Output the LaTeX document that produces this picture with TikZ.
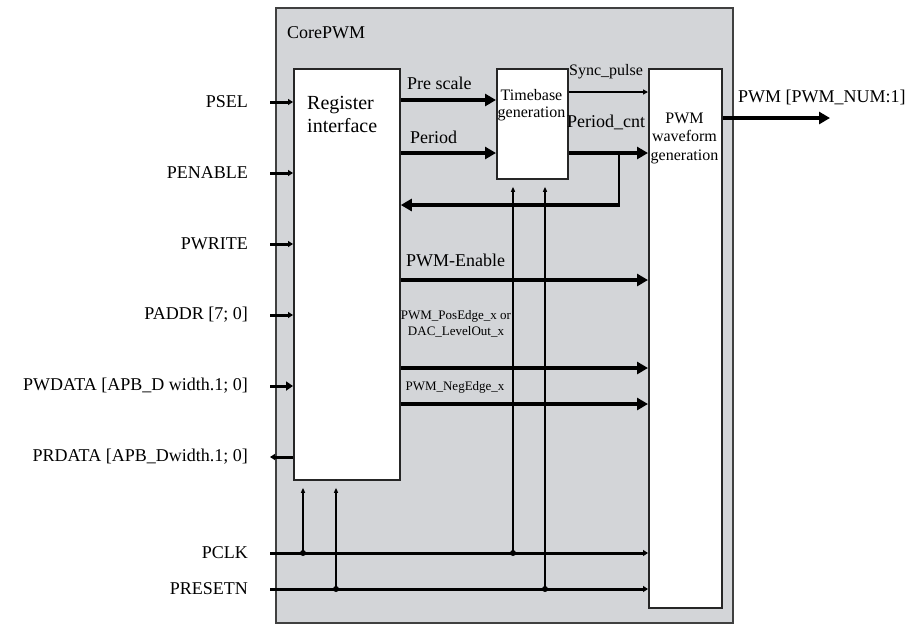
\documentclass[tikz,border=0pt]{standalone}
\usepackage{fontspec}
\setmainfont{Liberation Serif}
\usetikzlibrary{arrows.meta}
\begin{document}
\begin{tikzpicture}[x=1pt,y=-1pt,
  blk/.style={draw=black!85, line width=1.8pt, fill=white, anchor=north west, inner sep=0pt},
  tA/.style={font=\fontsize{18}{20}\selectfont, inner sep=0pt},
  tB/.style={font=\fontsize{16}{17}\selectfont, inner sep=0pt},
  tC/.style={font=\fontsize{13}{16}\selectfont, inner sep=0pt},
  big/.style={line width=3.5pt, -{Triangle[length=11pt,width=12pt]}},
  mid/.style={line width=3pt, -{Triangle[length=5pt,width=6pt]}},
  thin/.style={line width=1.5pt, -{Triangle[length=5pt,width=4pt]}},
  dot/.style={circle, fill=black, inner sep=0pt, minimum size=6pt}
]
\useasboundingbox (0,0) rectangle (912,625);
\fill[white] (0,0) rectangle (912,625);

% outer CorePWM box
\node[blk, fill={rgb,255:red,211;green,213;blue,216}, draw=black!75, line width=1.5pt,
      minimum width=457pt, minimum height=615pt] (core) at (275,7) {};
\node[tA, anchor=west] (corelbl) at (287,33) {CorePWM};

% inner blocks
\node[blk, minimum width=106pt, minimum height=411pt] (reg) at (293,68) {};
\node[blk, minimum width=71pt, minimum height=110pt] (tb) at (496,68) {};
\node[blk, minimum width=73pt, minimum height=539pt] (pwm) at (648,68) {};

\node[font=\fontsize{20}{23}\selectfont, inner sep=0pt, align=left, anchor=north west] (regtxt) at (307,96) {Register\\interface};
\node[font=\fontsize{16}{17}\selectfont, inner sep=0pt, align=center] (tbtxt) at (531.5,105) {Timebase\\generation};
\node[font=\fontsize{16}{18.5}\selectfont, inner sep=0pt, align=center] (pwmtxt) at (684.5,138) {PWM\\waveform\\generation};

% input labels
\node[tA, anchor=east] (lpsel) at (248,102) {PSEL};
\node[tA, anchor=east] (lpen) at (248,173) {PENABLE};
\node[tA, anchor=east] (lpwr) at (248,244) {PWRITE};
\node[tA, anchor=east] (lpad) at (248,315) {PADDR [7; 0]};
\node[tA, anchor=east] (lpwd) at (248,386) {PWDATA [APB\_D width.1; 0]};
\node[tA, anchor=east] (lprd) at (248,457) {PRDATA [APB\_Dwidth.1; 0]};
\node[tA, anchor=east] (lclk) at (248,553) {PCLK};
\node[tA, anchor=east] (lrst) at (248,589) {PRESETN};

\coordinate (cpsel) at (270,102);
\coordinate (cpen) at (270,173);
\coordinate (cpwr) at (270,244);
\coordinate (cpad) at (270,315);
\coordinate (cpwd) at (270,386);
\coordinate (cprd) at (270,457);
\coordinate (cclk) at (270,553);
\coordinate (crst) at (270,589);

\draw[mid] (cpsel) -- (cpsel -| reg.west);
\draw[mid] (cpen) -- (cpen -| reg.west);
\draw[mid] (cpwr) -- (cpwr -| reg.west);
\draw[mid] (cpad) -- (cpad -| reg.west);
\draw[mid, -{Triangle[length=7pt,width=9pt]}] (cpwd) -- (cpwd -| reg.west);
\draw[mid] (cprd -| reg.west) -- (cprd);

% register -> timebase
\coordinate (ypre) at (0,100);
\coordinate (yper) at (0,153);
\draw[big] (ypre -| reg.east) -- (ypre -| tb.west);
\draw[big] (yper -| reg.east) -- (yper -| tb.west);
\node[tA, anchor=west] (lpre) at (407,83) {Pre scale};
\node[tA, anchor=west] (lper) at (410,137) {Period};

% timebase -> pwm
\coordinate (ysync) at (0,92);
\draw[line width=2.2pt, -{Triangle[length=5pt,width=5pt]}] (ysync -| tb.east) -- (ysync -| pwm.west);
\node[tB, anchor=west] (lsync) at (569,72) {Sync\_pulse};
\draw[big] (yper -| tb.east) -- (yper -| pwm.west);
\node[tA, anchor=west] (lpcnt) at (567,122) {Period\_cnt};
\coordinate (fbtop) at (619,153);
\coordinate (fbbot) at (619,205);
\draw[line width=1.8pt] (fbtop) -- (fbbot);
\draw[big] ([xshift=0.9pt]fbbot) -- (fbbot -| reg.east);

% register -> pwm
\coordinate (yen) at (0,280);
\coordinate (ypos) at (0,368);
\coordinate (yneg) at (0,404);
\draw[big] (yen -| reg.east) -- (yen -| pwm.west);
\draw[big] (ypos -| reg.east) -- (ypos -| pwm.west);
\draw[big] (yneg -| reg.east) -- (yneg -| pwm.west);
\node[tA, anchor=west] (len) at (406,260) {PWM-Enable};
\node[tC, align=center] (lpos) at (456,324) {PWM\_PosEdge\_x or\\DAC\_LevelOut\_x};
\node[tC] (lneg) at (455,387) {PWM\_NegEdge\_x};

% pwm output
\coordinate (pwmout) at (830,118);
\draw[big] (pwmout -| pwm.east) -- (pwmout);
\node[tA, anchor=west] (lout) at (738,97) {PWM [PWM\_NUM:1]};

% clock and reset
\draw[mid] (cclk) -- (cclk -| pwm.west);
\draw[mid] (crst) -- (crst -| pwm.west);
\coordinate (x1) at (303,0);
\coordinate (x2) at (336,0);
\coordinate (x3) at (513,0);
\coordinate (x4) at (545,0);
\node[dot] (d1) at (x1 |- cclk) {};
\node[dot] (d2) at (x2 |- crst) {};
\node[dot] (d3) at (x3 |- cclk) {};
\node[dot] (d4) at (x4 |- crst) {};
\draw[thin] (d1.center) -- ([yshift=-7pt]x1 |- reg.south);
\draw[thin] (d2.center) -- ([yshift=-7pt]x2 |- reg.south);
\draw[thin] (d3.center) -- ([yshift=-7pt]x3 |- tb.south);
\draw[thin] (d4.center) -- ([yshift=-7pt]x4 |- tb.south);
\end{tikzpicture}
\end{document}
